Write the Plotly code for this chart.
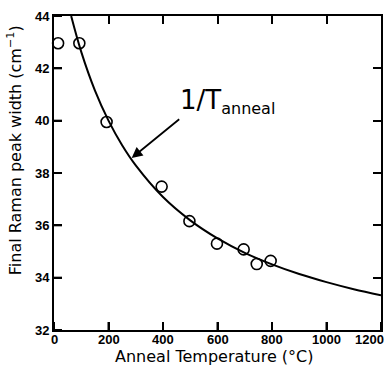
import plotly.graph_objects as go

temp_pts = [15, 93, 193, 395, 497, 598, 696, 744, 795]
width_pts = [42.96, 42.96, 39.95, 37.48, 36.16, 35.3, 35.08, 34.52, 34.64]

# fitted 1/T curve
curve_t = [63, 100, 150, 200, 250, 300, 400, 500, 600, 700, 800, 900, 1000, 1100, 1200]
curve_w = [44.0, 42.63, 41.16, 40.0, 39.06, 38.29, 37.08, 36.19, 35.5, 34.95, 34.51, 34.14, 33.83, 33.56, 33.33]

x_ticks = [0, 200, 400, 600, 800, 1000, 1200]
y_ticks = [32, 34, 36, 38, 40, 42, 44]
x_range = [0, 1200]
y_range = [32, 44]

x_title = "Anneal Temperature (°C)"
y_title = "Final Raman peak width (cm<sup>−1</sup>)"
fit_label = "1/T<sub><span style='font-size:16px'>anneal</span></sub>"

TICKFONT = dict(family="Liberation Sans", size=13, color="black", weight="bold")
TITLEFONT = "DejaVu Sans"
TICKLEN = 8

fig = go.Figure()
fig.add_trace(go.Scatter(x=curve_t, y=curve_w, mode="lines",
                         line=dict(color="black", width=2, shape="spline"),
                         hoverinfo="skip", showlegend=False))
fig.add_trace(go.Scatter(x=temp_pts, y=width_pts, mode="markers",
                         marker=dict(symbol="circle-open", size=11, color="black", line=dict(width=1.6)),
                         showlegend=False, cliponaxis=False))

axis_common = dict(showgrid=False, zeroline=False, showline=True, linecolor="black", linewidth=2,
                   mirror="ticks", ticks="inside", ticklen=TICKLEN, tickwidth=2, tickcolor="black")

fig.update_xaxes(range=x_range, tickvals=x_ticks, showticklabels=False, **axis_common)
fig.update_yaxes(range=y_range, tickvals=y_ticks, ticktext=[str(v) for v in y_ticks],
                 tickfont=TICKFONT, **axis_common)

# inward ticks on the bottom and left axes, placed through the axes' own scales
for v in x_ticks:
    fig.add_shape(type="line", xref="x", yref="y", x0=v, x1=v, ysizemode="pixel",
                  yanchor=y_range[0], y0=0, y1=TICKLEN, line=dict(color="black", width=2))
for v in y_ticks:
    fig.add_shape(type="line", xref="x", yref="y", y0=v, y1=v, xsizemode="pixel",
                  xanchor=x_range[0], x0=0, x1=TICKLEN, line=dict(color="black", width=2))

# x tick labels (last one right-aligned to stay inside the picture)
for i, v in enumerate(x_ticks):
    last = i == len(x_ticks) - 1
    fig.add_annotation(x=v, y=-0.003, xref="x", yref="paper", yanchor="top", borderpad=0,
                       xanchor="right" if last else "center", xshift=4 if last else 0,
                       text=str(v), showarrow=False, font=TICKFONT)

fig.add_annotation(x=0.49, y=-0.083, xref="paper", yref="paper", xanchor="center", yanchor="middle",
                   borderpad=0, text=x_title, showarrow=False,
                   font=dict(family=TITLEFONT, size=16, color="black"))
fig.add_annotation(x=-0.122, y=0.573, xref="paper", yref="paper", xanchor="center", yanchor="middle",
                   textangle=-90, text=y_title, showarrow=False,
                   font=dict(family=TITLEFONT, size=16, color="black"))

fig.add_annotation(x=285, y=38.57, ax=465, ay=40.1, xref="x", yref="y", axref="x", ayref="y",
                   showarrow=True, arrowhead=2, arrowsize=1.2, arrowwidth=1.8, arrowcolor="black", text="")
fig.add_annotation(x=455, y=40.75, xref="x", yref="y", xanchor="left", yanchor="middle", showarrow=False,
                   text=fit_label, font=dict(family=TITLEFONT, size=26, color="black"))

fig.update_layout(width=387, height=365, margin=dict(l=54, r=4, t=16, b=35),
                  paper_bgcolor="white", plot_bgcolor="white")

fig.write_html("out.html", config={"displayModeBar": False},
               post_script="document.body.style.margin='0';document.body.style.overflow='hidden';")
